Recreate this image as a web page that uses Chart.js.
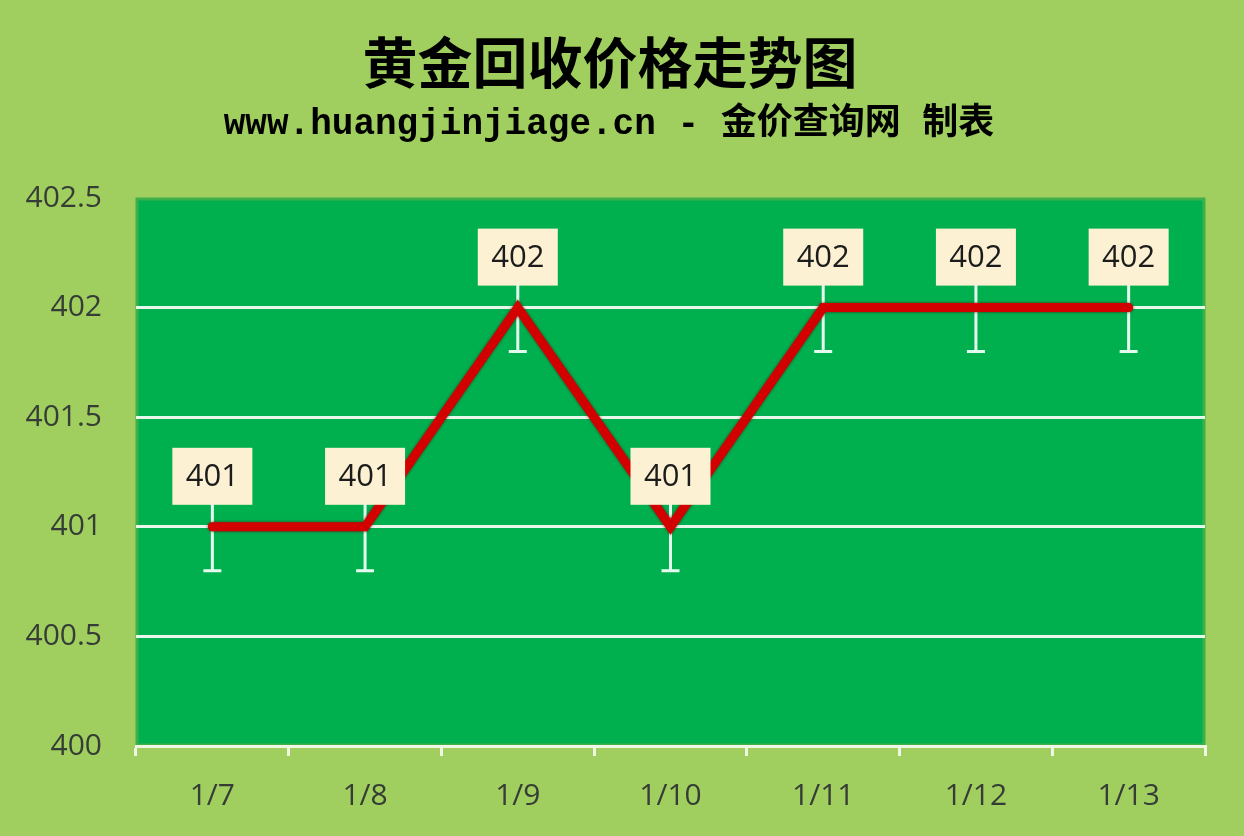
<!DOCTYPE html>
<html>
<head>
<meta charset="utf-8">
<script src="https://cdn.jsdelivr.net/npm/chart.js@4"></script>
<style>
  html, body { margin: 0; padding: 0; background: #a0cf5f; }
  #wrap { width: 1244px; height: 836px; position: relative; }
</style>
</head>
<body>
<div id="wrap"><canvas id="c"></canvas></div>
<script>
const titleText = '黄金回收价格走势图';
const subtitleText = 'www.huangjinjiage.cn - 金价查询网 制表';
const dates = ['1/7', '1/8', '1/9', '1/10', '1/11', '1/12', '1/13'];
const prices = [401, 401, 402, 401, 402, 402, 402];
const errorAmount = [0.2, 0.2, 0.2, 0.2, 0.2, 0.2, 0.2];
const yTicks = [400, 400.5, 401, 401.5, 402, 402.5];

// plot background + title text, drawn before the chart itself
const backdrop = {
  id: 'backdrop',
  beforeDraw(chart) {
    const { ctx, chartArea: a } = chart;
    ctx.save();
    ctx.fillStyle = '#a0cf5f';
    ctx.fillRect(0, 0, chart.width, chart.height);
    ctx.fillStyle = '#00b04f';
    ctx.fillRect(a.left, a.top, a.right - a.left, a.bottom - a.top);
    ctx.strokeStyle = '#3fb049';
    ctx.lineWidth = 3;
    ctx.strokeRect(a.left + 1, a.top + 1, a.right - a.left - 2, a.bottom - a.top - 2);

    ctx.fillStyle = '#000';
    ctx.textAlign = 'center';
    ctx.textBaseline = 'middle';
    ctx.font = '700 55px "Noto Sans CJK SC"';
    ctx.fillText(titleText, 610, 62);
    ctx.font = '700 36px "Liberation Mono", "Noto Sans CJK SC"';
    ctx.fillText(subtitleText, 609, 125);
    ctx.restore();
  }
};

// error bars under the line
const errorBars = {
  id: 'errorBars',
  beforeDatasetsDraw(chart) {
    const { ctx } = chart;
    const xs = chart.scales.x, ys = chart.scales.y;
    ctx.save();
    ctx.strokeStyle = '#e4fbef';
    ctx.lineWidth = 3;
    prices.forEach((v, i) => {
      const x = xs.getPixelForValue(i);
      const y1 = ys.getPixelForValue(v - errorAmount[i]);
      const y2 = ys.getPixelForValue(v + errorAmount[i]);
      ctx.beginPath();
      ctx.moveTo(x, y1); ctx.lineTo(x, y2);
      ctx.moveTo(x - 9, y1); ctx.lineTo(x + 9, y1);
      ctx.moveTo(x - 9, y2); ctx.lineTo(x + 9, y2);
      ctx.stroke();
    });
    ctx.restore();
  },
  beforeDatasetDraw(chart) {
    const ctx = chart.ctx;
    ctx.save();
    ctx.shadowColor = 'rgba(90,0,0,0.8)';
    ctx.shadowBlur = 3;
  },
  afterDatasetDraw(chart) {
    chart.ctx.restore();
  }
};

// value boxes above each point
const valueBoxes = {
  id: 'valueBoxes',
  afterDatasetsDraw(chart) {
    const { ctx } = chart;
    const xs = chart.scales.x, ys = chart.scales.y;
    ctx.save();
    ctx.font = '31px "Open Sans"';
    ctx.textAlign = 'center';
    ctx.textBaseline = 'middle';
    prices.forEach((v, i) => {
      const x = xs.getPixelForValue(i);
      const y = ys.getPixelForValue(v);
      const w = 80, h = 57;
      const bottom = y - 22;
      ctx.fillStyle = '#fdf1d3';
      ctx.fillRect(x - w / 2, bottom - h, w, h);
      ctx.fillStyle = '#1c1c1c';
      ctx.fillText(String(v), x, bottom - h / 2 + 1);
    });
    ctx.restore();
  }
};

new Chart(document.getElementById('c'), {
  type: 'line',
  data: {
    labels: dates,
    datasets: [{
      label: '金价',
      data: prices,
      borderColor: '#d20000',
      borderWidth: 9,
      borderCapStyle: 'round',
      borderJoinStyle: 'miter',
      pointRadius: 0,
      tension: 0
    }]
  },
  options: {
    responsive: true,
    maintainAspectRatio: false,
    animation: false,
    devicePixelRatio: 1,
    layout: { padding: { left: 0, top: 198, right: 39, bottom: 0 } },
    plugins: { legend: { display: false }, tooltip: { enabled: false } },
    scales: {
      x: {
        offset: true,
        afterFit: (s) => { s.height = 90; },
        grid: { offset: true, drawOnChartArea: false, drawTicks: true, tickLength: 10, color: '#eef7e4', lineWidth: 3 },
        border: { display: true, color: '#eef7e4', width: 3 },
        ticks: { color: '#363d36', font: { family: 'Open Sans', size: 30 }, padding: 22 }
      },
      y: {
        min: yTicks[0],
        max: yTicks[yTicks.length - 1],
        afterFit: (s) => { s.width = 136; },
        afterBuildTicks: (s) => { s.ticks = yTicks.map(v => ({ value: v })); },
        grid: {
          drawTicks: false,
          lineWidth: 3,
          color: (c) => (c.tick && (c.tick.value === yTicks[0] || c.tick.value === yTicks[yTicks.length - 1])) ? 'rgba(0,0,0,0)' : '#e6f8ea'
        },
        border: { display: false },
        ticks: { color: '#363d36', font: { family: 'Open Sans', size: 30 }, padding: 34, callback: (v) => String(v) }
      }
    }
  },
  plugins: [backdrop, errorBars, valueBoxes]
});
</script>
</body>
</html>
